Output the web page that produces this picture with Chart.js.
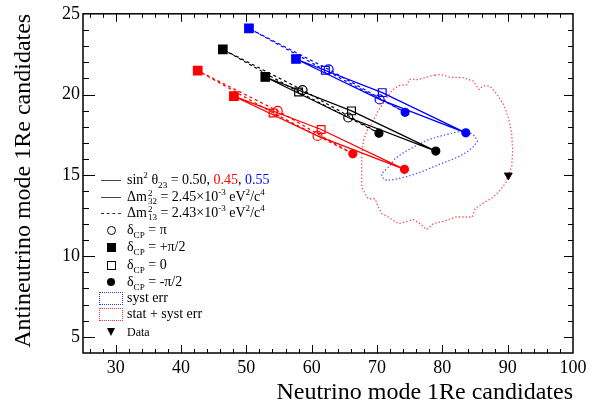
<!DOCTYPE html>
<html>
<head>
<meta charset="utf-8">
<script src="https://cdn.jsdelivr.net/npm/chart.js@4/dist/chart.umd.min.js"></script>
<style>
body{margin:0;background:#fff;}
#wrap{position:relative;width:597px;height:407px;}
#leyenda{position:absolute;left:0;top:0;font-family:"Liberation Serif",serif;font-size:14px;color:#000;}
.fila{position:absolute;left:98px;height:18px;display:flex;align-items:center;white-space:nowrap;}
.simb{width:26px;height:18px;display:flex;justify-content:center;align-items:center;margin-right:3px;}
.linea{width:20px;border-top:1.5px solid #444;}
.guiones{width:20px;border-top:1.5px dashed #333;}
.circ{width:7px;height:7px;border:1.2px solid #000;border-radius:50%;}
.circLleno{width:8px;height:8px;background:#000;border-radius:50%;}
.cuad{width:7px;height:7px;border:1.2px solid #000;}
.cuadLleno{width:9px;height:9px;background:#000;}
.caja{width:22px;height:11px;border:1px dotted;}
.tri{width:0;height:0;border-left:4px solid transparent;border-right:4px solid transparent;border-top:8px solid #000;}
sub,sup{font-size:65%;line-height:0;}
.pila{display:inline-flex;flex-direction:column;font-size:9px;line-height:8px;vertical-align:middle;margin-left:1px;}
.rojo{color:#f00;}
.azul{color:#00f;}
</style>
</head>
<body>
<div id="wrap">
<canvas id="grafico" width="597" height="407"></canvas>
<div id="leyenda">
  <div class="fila" style="top:171px"><div class="simb"><div class="linea"></div></div><span>sin<sup>2</sup> θ<sub>23</sub> = 0.50, <span class="rojo">0.45</span>, <span class="azul">0.55</span></span></div>
  <div class="fila" style="top:188px"><div class="simb"><div class="linea"></div></div><span>Δm<span class="pila"><span>2</span><span>32</span></span> = 2.45×10<sup>-3</sup> eV<sup>2</sup>/c<sup>4</sup></span></div>
  <div class="fila" style="top:204px"><div class="simb"><div class="guiones"></div></div><span>Δm<span class="pila"><span>2</span><span>13</span></span> = 2.43×10<sup>-3</sup> eV<sup>2</sup>/c<sup>4</sup></span></div>
  <div class="fila" style="top:221px"><div class="simb"><div class="circ"></div></div><span>δ<sub>CP</sub> = π</span></div>
  <div class="fila" style="top:238px"><div class="simb"><div class="cuadLleno"></div></div><span>δ<sub>CP</sub> = +π/2</span></div>
  <div class="fila" style="top:256px"><div class="simb"><div class="cuad"></div></div><span>δ<sub>CP</sub> = 0</span></div>
  <div class="fila" style="top:273px"><div class="simb"><div class="circLleno"></div></div><span>δ<sub>CP</sub> = -π/2</span></div>
  <div class="fila" style="top:289px"><div class="simb"><div class="caja" style="border-color:#33f"></div></div><span>syst err</span></div>
  <div class="fila" style="top:305px"><div class="simb"><div class="caja" style="border-color:#f33"></div></div><span>stat + syst err</span></div>
  <div class="fila" style="top:323px;font-size:12px"><div class="simb"><div class="tri"></div></div><span>Data</span></div>
</div>
</div>
<script>
// orden de los puntos en cada elipse: dCP = -pi/2, 0, +pi/2, pi
const xTicks = [30, 40, 50, 60, 70, 80, 90, 100];
const yTicks = [5, 10, 15, 20, 25];

// sin2 = 0.50
const nhNu050 = [79.0, 66.1, 52.9, 65.6];
const nhAnu050 = [16.5, 18.99, 21.09, 18.58];
const ihNu050 = [70.3, 58.0, 46.4, 58.6];
const ihAnu050 = [17.61, 20.16, 22.8, 20.28];
// sin2 = 0.45
const nhNu045 = [74.2, 61.45, 48.1, 60.9];
const nhAnu045 = [15.37, 17.84, 19.9, 17.44];
const ihNu045 = [66.3, 54.1, 42.56, 54.8];
const ihAnu045 = [16.33, 18.86, 21.48, 18.99];
// sin2 = 0.55
const nhNu055 = [83.6, 70.8, 57.6, 70.4];
const nhAnu055 = [17.63, 20.12, 22.2, 19.7];
const ihNu055 = [74.3, 62.1, 50.4, 62.6];
const ihAnu055 = [18.9, 21.5, 24.1, 21.56];

// contorno syst err
const systNu = [83.6, 82.2, 80.67, 79.14, 77.6, 76.08, 74.8, 73.78, 72.76, 72.0, 71.2, 70.7, 70.8, 71.5, 72.76, 74.44, 76.58, 78.62, 80.67, 82.45, 83.73, 84.74, 85.39, 85.0, 84.5];
const systAnu = [17.73, 17.68, 17.53, 17.37, 17.16, 16.85, 16.58, 16.33, 16.03, 15.61, 15.30, 15.10, 14.87, 14.68, 14.75, 14.90, 15.18, 15.52, 15.86, 16.14, 16.43, 16.77, 17.12, 17.40, 17.57];

// contorno stat + syst err
const totNu = [78.88, 79.65, 81.18, 83.21, 84.74, 85.61, 86.27, 87.30, 88.32, 89.33, 90.10, 90.62, 90.77, 90.62, 90.10, 89.75, 88.83, 87.80, 86.27, 85.0, 84.62, 82.09, 80.15, 78.62, 77.61, 76.58, 75.56, 74.29, 73.26, 71.73, 70.72, 70.20, 69.70, 68.67, 68.17, 67.66, 67.66, 67.66, 67.94, 68.62, 69.19, 70.20, 71.22, 72.25, 73.26, 74.55, 75.05, 76.32, 77.81];
const totAnu = [21.20, 21.26, 21.07, 21.05, 20.83, 20.31, 20.55, 20.52, 20.04, 19.42, 18.59, 17.59, 16.54, 15.51, 15.0, 14.56, 14.07, 13.65, 13.28, 12.94, 12.42, 12.42, 12.15, 12.01, 11.64, 12.01, 12.26, 12.11, 12.01, 12.42, 12.63, 13.04, 13.55, 13.55, 13.86, 14.27, 15.20, 16.23, 17.16, 17.90, 18.19, 19.01, 19.63, 20.24, 20.55, 20.61, 20.95, 20.92, 21.11];

const dataNu = [90.1];
const dataAnu = [15.0];

function puntos(nu, anu, cerrar){
  const p = nu.map((v, i) => ({x: v, y: anu[i]}));
  if(cerrar) p.push({x: nu[0], y: anu[0]});
  return p;
}

function elipse(nu, anu, color, guion){
  return {
    data: puntos(nu, anu, true),
    showLine: true,
    borderColor: color,
    borderWidth: 1.2,
    borderDash: guion ? [3, 3] : [],
    pointStyle: ["circle", "rect", "rect", "circle", "circle"],
    pointRadius: [4, 5.5, 6, 4.5, 0],
    pointBorderWidth: 1.2,
    pointBorderColor: color,
    pointBackgroundColor: [color, "rgba(0,0,0,0)", color, "rgba(0,0,0,0)", color]
  };
}

function contorno(nu, anu, color){
  return {
    data: puntos(nu, anu, true),
    showLine: true,
    borderColor: color,
    borderWidth: 1.3,
    borderDash: [1.3, 2.2],
    pointRadius: 0
  };
}

const marco = {
  id: "marco",
  afterDatasetsDraw(chart){
    const {ctx, chartArea: a, scales: {x, y}} = chart;
    ctx.save();
    ctx.strokeStyle = "#000";
    ctx.lineWidth = 1.5;
    ctx.strokeRect(a.left, a.top, a.right - a.left, a.bottom - a.top);
    ctx.lineWidth = 1;
    ctx.beginPath();
    for(let v = 26; v < 100; v += 2){
      const px = Math.round(x.getPixelForValue(v)) + 0.5;
      const largo = v % 10 === 0 ? 8 : 4;
      ctx.moveTo(px, a.bottom); ctx.lineTo(px, a.bottom - largo);
      ctx.moveTo(px, a.top); ctx.lineTo(px, a.top + largo);
    }
    for(let v = 5; v < 25; v++){
      const py = Math.round(y.getPixelForValue(v)) + 0.5;
      const mayor = v % 5 === 0;
      ctx.moveTo(a.left, py); ctx.lineTo(a.left + (mayor ? 12 : 6), py);
      ctx.moveTo(a.right, py); ctx.lineTo(a.right - (mayor ? 9 : 5), py);
    }
    ctx.stroke();
    ctx.restore();
  }
};

const fuente = "'Liberation Serif', serif";

new Chart(document.getElementById("grafico"), {
  type: "scatter",
  data: {
    datasets: [
      {
        data: puntos(dataNu, dataAnu, false),
        pointStyle: "triangle",
        pointRotation: 180,
        pointRadius: 4.5,
        pointBackgroundColor: "#000",
        pointBorderColor: "#000"
      },
      elipse(nhNu050, nhAnu050, "#000", false),
      elipse(ihNu050, ihAnu050, "#000", true),
      elipse(nhNu045, nhAnu045, "#f00", false),
      elipse(ihNu045, ihAnu045, "#f00", true),
      elipse(nhNu055, nhAnu055, "#00f", false),
      elipse(ihNu055, ihAnu055, "#00f", true),
      contorno(systNu, systAnu, "rgba(40,40,255,0.85)"),
      contorno(totNu, totAnu, "rgba(255,30,30,0.85)")
    ]
  },
  options: {
    responsive: false,
    animation: false,
    layout: {padding: {top: 13, right: 24, left: 0, bottom: 0}},
    plugins: {legend: {display: false}, tooltip: {enabled: false}},
    scales: {
      x: {
        type: "linear",
        min: 25,
        max: 100,
        grid: {display: false, drawTicks: false},
        border: {display: false},
        afterBuildTicks: s => { s.ticks = xTicks.map(v => ({value: v})); },
        afterFit: s => { s.height = 54; },
        ticks: {color: "#000", padding: 4, maxRotation: 0, font: {family: fuente, size: 18}},
        title: {display: true, text: "Neutrino mode 1Re candidates", align: "end", color: "#000", padding: {top: 0, bottom: 0}, font: {family: fuente, size: 24}}
      },
      y: {
        type: "linear",
        min: 4,
        max: 25,
        grid: {display: false, drawTicks: false},
        border: {display: false},
        afterBuildTicks: s => { s.ticks = yTicks.map(v => ({value: v})); },
        afterFit: s => { s.width = 83; },
        ticks: {color: "#000", padding: 3, font: {family: fuente, size: 18}},
        title: {display: true, text: "Antineutrino mode 1Re candidates", align: "end", color: "#000", padding: {top: 9, bottom: 0}, font: {family: fuente, size: 24}}
      }
    }
  },
  plugins: [marco]
});
</script>
</body>
</html>
